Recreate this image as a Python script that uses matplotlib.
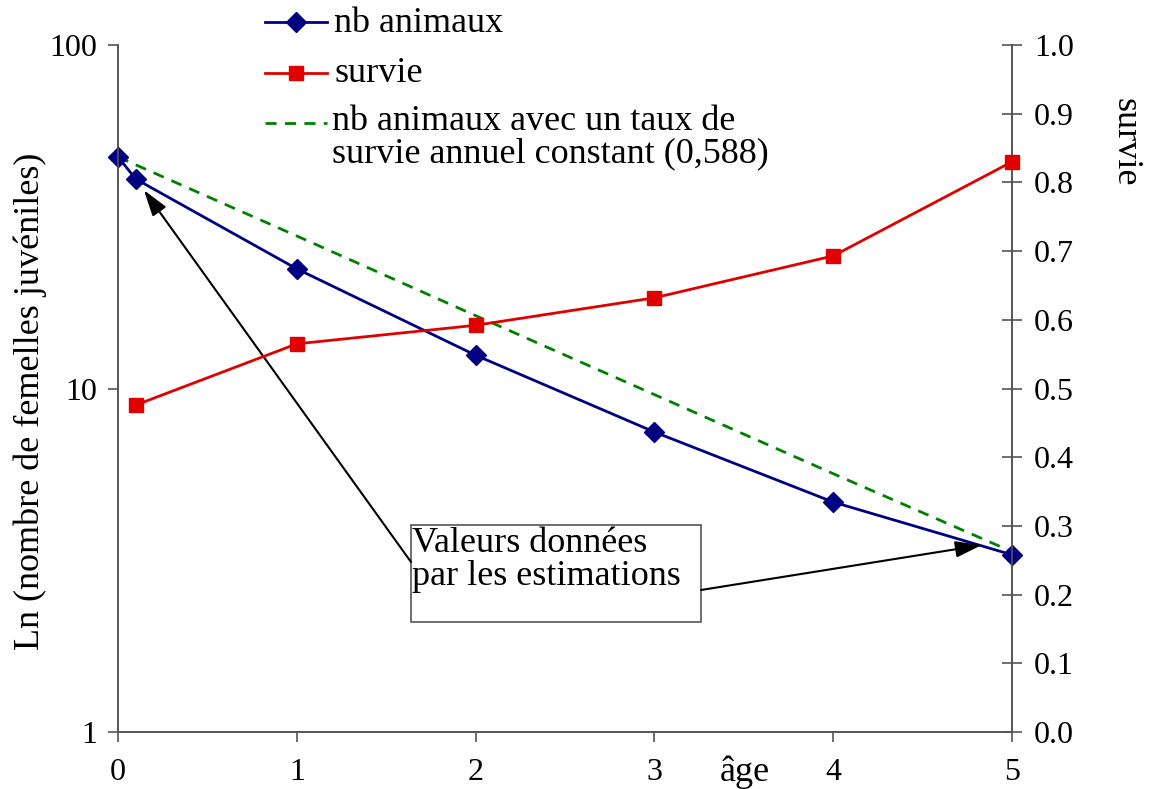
import matplotlib
matplotlib.use("Agg")
import matplotlib.pyplot as plt
from matplotlib.lines import Line2D
from matplotlib.patches import Rectangle

plt.rcParams['font.family'] = ['Liberation Serif', 'DejaVu Serif']

# Data
age_nb = [0, 0.1, 1, 2, 3, 4, 5]
nb_animaux = [47.2, 40.7, 22.3, 12.5, 7.47, 4.67, 3.28]
age_surv = [0.1, 1, 2, 3, 4, 5]
survie = [0.476, 0.565, 0.592, 0.632, 0.693, 0.830]
age_const = [0, 1, 2, 3, 4, 5]
nb_const = [47.2, 27.8, 16.3, 9.6, 5.65, 3.35]

x_ticks = [0, 1, 2, 3, 4, 5]
y2_ticks = [0.0, 0.1, 0.2, 0.3, 0.4, 0.5, 0.6, 0.7, 0.8, 0.9, 1.0]

W, H = 1150, 789
fig = plt.figure(figsize=(W / 100, H / 100), dpi=100)
L, R, T, B = 118, 1012, 45, 732
ax = fig.add_axes([L / W, 1 - B / H, (R - L) / W, (B - T) / H])
ax2 = ax.twinx()

FS = 23
FT = 26
navy = '#000080'
red = '#e00000'
green = '#008000'
spine_c = '#555555'

ax.plot(age_const, nb_const, color=green, lw=2, ls=(0, (4, 3)), zorder=2,
        clip_on=False)
ax.plot(age_nb, nb_animaux, color=navy, lw=2, marker='D', ms=10, zorder=3,
        clip_on=False)
ax2.plot(age_surv, survie, color=red, lw=2, marker='s', ms=10, zorder=3,
         clip_on=False)

ax.set_yscale('log')
ax.set_ylim(1, 100)
ax.set_xlim(0, 5)
ax.set_yticks([1, 10, 100])
ax.set_yticklabels(['1', '10', '100'])
ax.minorticks_off()
ax.set_xticks(x_ticks)
ax.set_xticklabels([str(v) for v in x_ticks])
ax2.set_ylim(0, 1)
ax2.set_yticks(y2_ticks)
ax2.set_yticklabels([f'{v:.1f}' for v in y2_ticks])
ax2.minorticks_off()

for a in (ax, ax2):
    a.spines['top'].set_visible(False)
    for s in ('left', 'right', 'bottom'):
        a.spines[s].set_color(spine_c)
        a.spines[s].set_linewidth(1.2)
    a.patch.set_visible(False)

ax.tick_params(axis='y', which='major', direction='out', length=7, width=1.2,
               color=spine_c, labelsize=FS, pad=8)
ax.tick_params(axis='x', which='major', direction='out', length=7, width=1.2,
               color=spine_c, labelsize=FS, pad=12)
ax2.tick_params(axis='y', which='major', direction='inout', length=14, width=1.2,
                color=spine_c, labelsize=FS, pad=9)

ax.set_ylabel('Ln (nombre de femelles juvéniles)', fontsize=FT, labelpad=14)
ax.yaxis.set_label_coords(-0.079, 0.482)
fig.text(1125 / W, 1 - 142 / H, 'survie', rotation=270, fontsize=FT,
         ha='center', va='center')
fig.text(745 / W, 1 - 772 / H, 'âge', fontsize=FT, ha='center', va='center')

# Legend (manual, outside/top)
def fx(px):
    return px / W

def fy(py):
    return 1 - py / H

fig.add_artist(Line2D([fx(265), fx(327)], [fy(22), fy(22)], color=navy, lw=2,
                      transform=fig.transFigure))
fig.add_artist(Line2D([fx(296)], [fy(22)], color=navy, marker='D', ms=10,
                      transform=fig.transFigure))
fig.text(fx(334), fy(23), 'nb animaux', fontsize=FT, va='center', ha='left')
fig.add_artist(Line2D([fx(265), fx(327)], [fy(73), fy(73)], color=red, lw=2,
                      transform=fig.transFigure))
fig.add_artist(Line2D([fx(296)], [fy(73)], color=red, marker='s', ms=10,
                      transform=fig.transFigure))
fig.text(fx(334), fy(74), 'survie', fontsize=FT, va='center', ha='left')
fig.add_artist(Line2D([fx(265), fx(327)], [fy(123), fy(123)], color=green, lw=2,
                      ls=(0, (4, 3)), transform=fig.transFigure))
fig.text(fx(332), fy(122), 'nb animaux avec un taux de', fontsize=FT,
         va='center', ha='left')
fig.text(fx(332), fy(154), 'survie annuel constant (0,588)', fontsize=FT,
         va='center', ha='left')

# Annotation box and arrows
bx0, bx1 = (411 - L) / (R - L), (701 - L) / (R - L)
by1, by0 = (B - 525) / (B - T), (B - 622) / (B - T)
ax.add_patch(Rectangle((bx0, by0), bx1 - bx0, by1 - by0, transform=ax.transAxes,
                       facecolor='white', edgecolor=spine_c, lw=1.2, zorder=4))
ax.text(bx0 + 0.001, by1 - 0.003, 'Valeurs données\npar les estimations',
        transform=ax.transAxes, fontsize=FT, va='top', ha='left', zorder=5,
        linespacing=1.0)
arrowprops = dict(arrowstyle='-|>,head_length=1.6,head_width=0.5',
                  color='black', lw=1.5, shrinkA=0, shrinkB=0)
ax.annotate('', xy=(0.145, 37.8), xycoords='data',
            xytext=(bx0, (B - 562) / (B - T)), textcoords='axes fraction',
            arrowprops=arrowprops, zorder=5)
ax.annotate('', xy=(4.83, 3.5), xycoords='data',
            xytext=(bx1, (B - 590) / (B - T)), textcoords='axes fraction',
            arrowprops=arrowprops, zorder=5)

fig.savefig('out.png', dpi=100)
